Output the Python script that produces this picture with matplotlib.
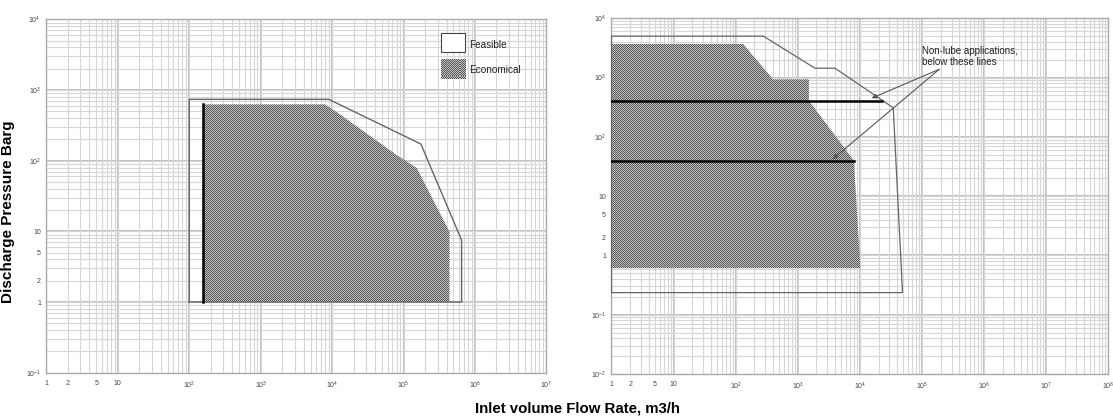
import numpy as np
import matplotlib
matplotlib.use('Agg')
import matplotlib.pyplot as plt
import matplotlib.ticker as ticker
from matplotlib.colors import ListedColormap
from matplotlib.patches import Polygon, Rectangle
from matplotlib.transforms import IdentityTransform

plt.rcParams['font.family'] = ['Liberation Sans', 'DejaVu Sans']
plt.rcParams['mathtext.fontset'] = 'custom'
plt.rcParams['mathtext.rm'] = 'Liberation Sans'
plt.rcParams['mathtext.it'] = 'Liberation Sans'

# ---- data (flow m3/h, pressure barg) ----
# left chart
feas_left_q = [100, 100, 9000, 1.75e5, 6.5e5, 6.5e5]
feas_left_p = [1, 737, 737, 172, 7.5, 1]
econ_left_q = [155, 155, 8000, 12900, 80500, 1.53e5, 4.4e5, 4.4e5]
econ_left_p = [1, 626, 626, 452, 120, 79, 9.9, 1]

# right chart
feas_right_q = [1, 1, 280, 1890, 3970, 34500, 48700]
feas_right_p = [0.236, 5000, 5000, 1440, 1440, 310, 0.236]
econ_right_q = [1, 1, 132, 400, 1510, 1510, 8000, 10200]
econ_right_p = [0.61, 3690, 3690, 935, 935, 410, 40, 0.61]
nonlube_p = [410, 39]
nonlube_q_end = [22400, 8000]
arrow_tips_q = [15500, 3640]
arrow_tips_p = [450, 42]
arrow_from = (1.9e5, 1380)

# tick labels
left_xticks = [1, 2, 5, 10, 1e2, 1e3, 1e4, 1e5, 1e6, 1e7]
left_xlabels = ['1', '2', '5', '10', '$10^{2}$', '$10^{3}$', '$10^{4}$', '$10^{5}$', '$10^{6}$', '$10^{7}$']
right_xticks = left_xticks + [1e8]
right_xlabels = left_xlabels + ['$10^{8}$']
left_yticks = [0.1, 1, 2, 5, 10, 1e2, 1e3, 1e4]
left_ylabels = ['$10^{-1}$', '1', '2', '5', '10', '$10^{2}$', '$10^{3}$', '$10^{4}$']
right_yticks = [0.01] + left_yticks
right_ylabels = ['$10^{-2}$'] + left_ylabels

W, H = 1113, 417
fig = plt.figure(figsize=(W / 100, H / 100), dpi=100)
ax1 = fig.add_axes([0.0417, 0.1062, 0.4492, 0.8475])
ax2 = fig.add_axes([0.5494, 0.1031, 0.4463, 0.8530])

# 1px checkerboard texture used for the "Economical" area
yy, xx = np.mgrid[0:H, 0:W]
checker = (xx + yy) % 2
checker_cmap = ListedColormap(['#565656', '#c2c2c2'])


def checker_fill(ax, patch):
    """Fill a patch with the checker texture."""
    ax.add_patch(patch)
    im = ax.imshow(checker, cmap=checker_cmap, extent=(0, W, 0, H),
                   transform=IdentityTransform(), interpolation='nearest',
                   aspect='auto', zorder=1.6)
    im.set_clip_path(patch)


def setup_axes(ax, xlim, ylim, xticks, xlabels, yticks, ylabels):
    ax.set_xscale('log')
    ax.set_yscale('log')
    ax.set_xlim(*xlim)
    ax.set_ylim(*ylim)
    ax.set_xticks(xticks, xlabels)
    ax.set_yticks(yticks, ylabels)
    ax.xaxis.set_minor_locator(ticker.LogLocator(base=10, subs=np.arange(1, 10), numticks=50))
    ax.yaxis.set_minor_locator(ticker.LogLocator(base=10, subs=np.arange(1, 10), numticks=50))
    ax.xaxis.set_minor_formatter(ticker.NullFormatter())
    ax.yaxis.set_minor_formatter(ticker.NullFormatter())
    ax.xaxis.remove_overlapping_locs = False
    ax.yaxis.remove_overlapping_locs = False
    ax.grid(False, which='major')
    ax.grid(True, which='minor', color='#d6d6d6', lw=0.8)
    # darker decade lines
    for d in 10.0 ** np.arange(np.log10(xlim[0]) + 1, np.log10(xlim[1])):
        ax.axvline(d, color='#b4b4b4', lw=1.2, zorder=1.5)
    for d in 10.0 ** np.arange(np.log10(ylim[0]) + 1, np.log10(ylim[1])):
        ax.axhline(d, color='#b4b4b4', lw=1.2, zorder=1.5)
    ax.tick_params(which='both', length=0, labelsize=5, labelcolor='#444444')
    ax.tick_params(axis='x', pad=5)
    ax.tick_params(axis='y', pad=4)
    for s in ax.spines.values():
        s.set_color('#aaaaaa')
        s.set_linewidth(1.0)


setup_axes(ax1, (1, 1e7), (0.1, 1e4), left_xticks, left_xlabels, left_yticks, left_ylabels)
setup_axes(ax2, (1, 1e8), (0.01, 1e4), right_xticks, right_xlabels, right_yticks, right_ylabels)

# ---- left chart ----
checker_fill(ax1, Polygon(np.column_stack([econ_left_q, econ_left_p]), closed=True,
                          facecolor='none', edgecolor='none'))
ax1.plot(feas_left_q + feas_left_q[:1], feas_left_p + feas_left_p[:1],
         color='#666666', lw=1.0, zorder=3)
ax1.plot(econ_left_q[:2], econ_left_p[:2], color='black', lw=1.8, zorder=3)

# legend drawn by hand
ax1.add_patch(Rectangle((0.789, 0.907), 0.048, 0.053, transform=ax1.transAxes,
                        facecolor='white', edgecolor='#444444', lw=0.8, zorder=3))
leg_econ = Rectangle((0.789, 0.830), 0.049, 0.057, transform=ax1.transAxes,
                     facecolor='none', edgecolor='none')
checker_fill(ax1, leg_econ)
ax1.text(0.845, 0.927, 'Feasible', transform=ax1.transAxes, fontsize=7.2,
         va='center', ha='left', color='#222222', zorder=4)
ax1.text(0.845, 0.857, 'Economical', transform=ax1.transAxes, fontsize=7.2,
         va='center', ha='left', color='#222222', zorder=4)

# ---- right chart ----
checker_fill(ax2, Polygon(np.column_stack([econ_right_q, econ_right_p]), closed=True,
                          facecolor='none', edgecolor='none'))
ax2.plot(feas_right_q + feas_right_q[:1], feas_right_p + feas_right_p[:1],
         color='#666666', lw=0.9, zorder=3)
for p, q_end in zip(nonlube_p, nonlube_q_end):
    ax2.plot([1, q_end], [p, p], color='black', lw=1.8, zorder=3)

for tq, tp in zip(arrow_tips_q, arrow_tips_p):
    ax2.annotate('', xy=(tq, tp), xytext=arrow_from,
                 arrowprops=dict(arrowstyle='-|>', color='#555555', lw=0.8,
                                 mutation_scale=7, shrinkA=0, shrinkB=0), zorder=4)
ax2.text(9.9e4, 2250, 'Non-lube applications,\nbelow these lines', fontsize=7,
         ha='left', va='center', color='#222222', linespacing=1.1, zorder=4)

# axis titles shared by both charts
fig.text(0.0075, 0.493, 'Discharge Pressure Barg', rotation=90, fontsize=11,
         fontweight='bold', ha='center', va='center')
fig.text(0.5184, 0.0204, 'Inlet volume Flow Rate, m3/h', fontsize=10.8,
         fontweight='bold', ha='center', va='center')

fig.savefig('out.png', dpi=100)
